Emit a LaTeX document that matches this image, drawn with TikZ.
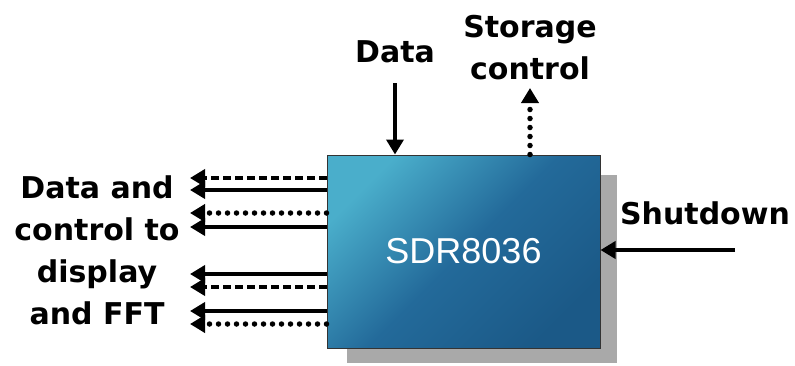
\documentclass[tikz,border=0pt]{standalone}
\usepackage{fontspec}
\setmainfont{DejaVu Sans}
\newfontfamily\chipfont{Liberation Sans}
\usetikzlibrary{arrows.meta}
\definecolor{chiplight}{HTML}{4AAECB}
\definecolor{chipmid}{HTML}{236A9A}
\definecolor{chipdark}{HTML}{1B5987}
\definecolor{shadowgray}{HTML}{A9A9A9}

\begin{document}
\begin{tikzpicture}[x=1pt,y=-1pt,line width=3.6pt,
    >={Triangle[length=15pt,width=17pt]}]
    \tikzstyle{label}=[font=\fontsize{30}{42}\selectfont\bfseries,align=center,inner sep=0pt]
    \tikzstyle{chip}=[draw=black!80,line width=1pt,minimum width=273pt,minimum height=193pt,
        inner sep=0pt,shading=axis,top color=chiplight,bottom color=chipdark,shading angle=45,
        middle color=chipmid,
        font=\chipfont\fontsize{36}{40}\selectfont,text=white]
    \tikzstyle{shade box}=[fill=shadowgray,minimum width=270pt,minimum height=188pt,inner sep=0pt]
    \tikzstyle{dash line}=[dash pattern=on 8pt off 4pt]
    \tikzstyle{dot line}=[line cap=round,dash pattern=on 0pt off 9pt,line width=5.5pt]
    \useasboundingbox (0,0) rectangle (795,365);

    \node[shade box] (shadow) at (482,269) {};
    \node[chip] (sdr) at (463.5,251.5) {SDR8036};

    % outputs to the left
    \foreach \num/\y/\sty in {1/178/dash line, 2/190/, 3/213/dot line, 4/227/,
                              5/274/, 6/287/dash line, 7/311/, 8/324/dot line}
    {
        \coordinate (L-\num) at (190,\y);
        \draw[->,\sty] (sdr.west |- L-\num) -- (L-\num);
    }

    \node[label] (out) at (97,250) {Data and\\control to\\display\\and FFT};

    % top side
    \node[label] (data) at (395,52) {Data};
    \coordinate (D) at (395,83);
    \draw[->] (D) -- (D |- sdr.north);
    \node[label] (store) at (530,48) {Storage\\control};
    \coordinate (S) at (530,88);
    \draw[->,dot line] (S |- sdr.north) -- (S);

    % right side
    \node[label] (off) at (705,213) {Shutdown};
    \coordinate (R) at (735,250);
    \draw[->] (R) -- (sdr.east |- R);
\end{tikzpicture}
\end{document}
